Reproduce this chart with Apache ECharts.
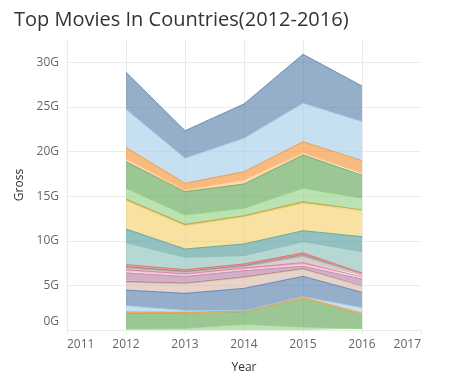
<!DOCTYPE html>
<html>
<head>
<meta charset="utf-8">
<script src="https://cdn.jsdelivr.net/npm/echarts@6/dist/echarts.min.js"></script>
<style>
  html, body { margin: 0; padding: 0; background: #fff; }
  #chart { width: 452px; height: 385px; }
</style>
</head>
<body>
<div id="chart"></div>
<script>
// X axis categories (tick labels); data exists for 2012-2016
var xTicks = ['2011', '2012', '2013', '2014', '2015', '2016', '2017'];
var years = ['2012', '2013', '2014', '2015', '2016'];
// Y tick labels (G)
var yTicks = [0, 5, 10, 15, 20, 25, 30];

// Gross per country layer (billions), listed bottom to top of the stack
var layer01 = [0.15, 0.20, 0.64, 0.34, 0.15];
var layer02 = [1.75, 1.70, 1.40, 3.20, 1.62];
var layer03 = [0.02, 0.02, 0.02, 0.02, 0.02];
var layer04 = [0.10, 0.08, 0.06, 0.10, 0.10];
var layer05 = [0.70, 0.18, 0.05, 0.07, 0.61];
var layer06 = [1.75, 1.93, 2.50, 2.29, 1.72];
var layer07 = [0.88, 1.07, 1.21, 0.78, 0.68];
var layer08 = [0.10, 0.10, 0.10, 0.10, 0.10];
var layer09 = [0.15, 0.12, 0.12, 0.10, 0.10];
var layer10 = [0.80, 0.60, 0.55, 0.15, 0.62];
var layer11 = [0.22, 0.18, 0.17, 0.20, 0.13];
var layer12 = [0.14, 0.12, 0.13, 0.20, 0.10];
var layer13 = [0.19, 0.15, 0.15, 0.70, 0.15];
var layer14 = [0.17, 0.15, 0.15, 0.25, 0.15];
var layer15 = [0.10, 0.08, 0.07, 0.08, 0.07];
var layer16 = [0.10, 0.08, 0.08, 0.07, 0.06];
var layer17 = [2.47, 1.39, 0.93, 1.25, 2.40];
var layer18 = [1.53, 0.93, 1.31, 1.23, 1.68];
var layer19 = [3.18, 2.61, 3.06, 3.07, 2.88];
var layer20 = [0.18, 0.15, 0.11, 0.18, 0.11];
var layer21 = [1.20, 1.05, 0.83, 1.50, 1.31];
var layer22 = [2.98, 2.61, 2.72, 3.73, 2.61];
var layer23 = [0.34, 0.19, 0.45, 0.26, 0.19];
var layer24 = [1.27, 0.75, 0.93, 1.23, 1.42];
var layer25 = [4.26, 2.80, 3.74, 4.31, 4.37];
var layer26 = [4.15, 3.10, 3.85, 5.49, 4.00];

var layers = [layer01, layer02, layer03, layer04, layer05, layer06, layer07, layer08, layer09, layer10,
              layer11, layer12, layer13, layer14, layer15, layer16, layer17, layer18, layer19, layer20,
              layer21, layer22, layer23, layer24, layer25, layer26];

// Tableau 20 colours, matched to the layers above (bottom to top)
var colors = ['#8CD17D', '#59A14F', '#FFBE7D', '#F28E2B', '#A0CBE8', '#4E79A7',
              '#D7B5A6', '#9D7660', '#D4A6C8', '#B07AA1', '#FABFD2', '#D37295',
              '#BAB0AC', '#79706E', '#FF9D9A', '#E15759', '#86BCB6', '#499894',
              '#F1CE63', '#B6992D', '#8CD17D', '#59A14F', '#FFBE7D', '#F28E2B',
              '#A0CBE8', '#4E79A7'];

var series = layers.map(function (vals, i) {
  var data = xTicks.map(function (c) {
    var k = years.indexOf(c);
    return k < 0 ? '-' : vals[k];
  });
  return {
    name: 'Country ' + (layers.length - i),
    type: 'line',
    stack: 'gross',
    showSymbol: false,
    symbol: 'none',
    animation: false,
    data: data,
    lineStyle: { width: 1, color: colors[i], opacity: 0.75 },
    areaStyle: { color: colors[i], opacity: 0.6 },
    itemStyle: { color: colors[i] }
  };
});

var grid = '#ebebeb';
var chart = echarts.init(document.getElementById('chart'), null, { renderer: 'canvas' });
chart.setOption({
  animation: false,
  backgroundColor: '#ffffff',
  title: {
    text: 'Top Movies In Countries(2012-2016)',
    left: 9, top: 5,
    textStyle: { fontFamily: 'Open Sans', fontSize: 20, fontWeight: 'normal', color: '#333333' }
  },
  grid: { left: 67, right: 31, top: 40, bottom: 55, containLabel: false },
  xAxis: {
    type: 'category',
    data: xTicks,
    boundaryGap: false,
    name: 'Year', nameLocation: 'middle', nameGap: 32,
    nameTextStyle: { fontFamily: 'Open Sans', fontSize: 12, color: '#333333' },
    axisLine: { show: false },
    axisTick: { show: true, length: 4, lineStyle: { color: grid } },
    axisLabel: {
      margin: 9, fontFamily: 'Open Sans', fontSize: 12, color: '#666666',
      alignMinLabel: 'left', alignMaxLabel: 'right', interval: 0
    },
    splitLine: { show: true, interval: function (idx) { return idx < xTicks.length - 1; }, lineStyle: { color: grid } }
  },
  yAxis: {
    type: 'value',
    min: 0, max: 32.5, interval: 5,
    name: 'Gross', nameLocation: 'middle', nameGap: 32, nameRotate: 90,
    nameTextStyle: { fontFamily: 'Open Sans', fontSize: 12, color: '#333333' },
    axisLine: { show: false },
    axisTick: { show: false },
    axisLabel: {
      margin: 8, fontFamily: 'Open Sans', fontSize: 12, color: '#666666',
      showMaxLabel: false,
      formatter: function (v) {
        if (yTicks.indexOf(v) < 0) return '';
        return v === 0 ? '{z|0G}' : v + 'G';
      },
      rich: { z: { fontFamily: 'Open Sans', fontSize: 12, color: '#666666', padding: [0, 0, 17, 0] } }
    },
    splitLine: { show: true, lineStyle: { color: [grid, grid, grid, grid, grid, grid, grid, 'rgba(0,0,0,0)'] } }
  },
  series: series
});
</script>
</body>
</html>
